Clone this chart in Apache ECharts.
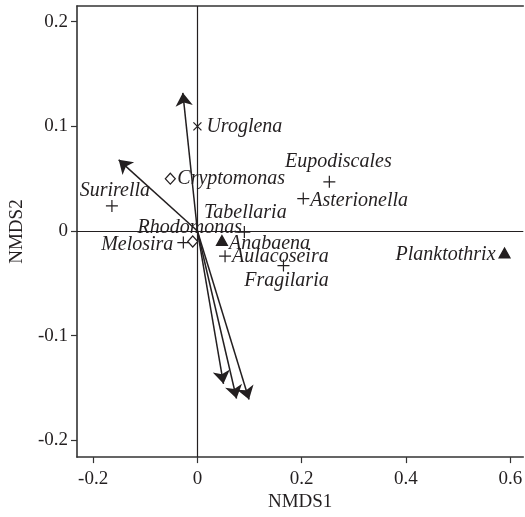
<!DOCTYPE html>
<html>
<head>
<meta charset="utf-8">
<script src="https://cdn.jsdelivr.net/npm/echarts@6/dist/echarts.min.js"></script>
<style>
  html, body { margin: 0; padding: 0; background: #fff; }
  #chart { width: 525px; height: 517px; }
</style>
</head>
<body>
<div id="chart"></div>
<script>
  // species scores (NMDS1, NMDS2)
  let speciesNames = ['Uroglena', 'Cryptomonas', 'Surirella', 'Melosira', 'Rhodomonas', 'Tabellaria',
    'Anabaena', 'Aulacoseira', 'Fragilaria', 'Eupodiscales', 'Asterionella', 'Planktothrix']
  let speciesX = [0.000, -0.052, -0.164, -0.027, -0.009, 0.090, 0.047, 0.053, 0.165, 0.253, 0.203, 0.589]
  let speciesY = [0.100, 0.050, 0.024, -0.011, -0.010, -0.001, -0.009, -0.024, -0.033, 0.047, 0.031, -0.021]
  let speciesGroup = ['cross', 'diamond', 'plus', 'plus', 'diamond', 'plus',
    'triangle', 'plus', 'plus', 'plus', 'plus', 'triangle']

  // environmental vectors
  let envNames = ['Cond', 'SD', 'MeanT', 'MinT', 'WS']
  let envX = [-0.028, -0.151, 0.050, 0.075, 0.099]
  let envY = [0.132, 0.068, -0.146, -0.160, -0.161]

  let xTicks = [-0.2, 0, 0.2, 0.4, 0.6]
  let yTicks = [-0.2, -0.1, 0, 0.1, 0.2]

  // label placement (align, dx, dy in px)
  let speciesLabelPos = {
    Uroglena: ['left', 9, 0], Cryptomonas: ['left', 7, 0], Surirella: ['center', 3, -15],
    Melosira: ['right', -10, 2], Rhodomonas: ['center', -3, -14], Tabellaria: ['center', 1, -19],
    Anabaena: ['left', 7, 3], Aulacoseira: ['left', 7, 1], Fragilaria: ['center', 3, 15],
    Eupodiscales: ['center', 9, -20], Asterionella: ['left', 7, 2], Planktothrix: ['right', -9, 2]
  }
  let envLabelPos = { Cond: [0, -16], SD: [-8, -22], MeanT: [-35, 5], MinT: [3, 25], WS: [29, 6] }

  const font = 'Liberation Serif'
  const ink = '#231f20'
  const symbols = {
    plus: { symbol: 'path://M0,-1L0,1M-1,0L1,0', size: 12, fill: 'none', border: ink },
    cross: { symbol: 'path://M-1,-1L1,1M-1,1L1,-1', size: 8, fill: 'none', border: ink },
    diamond: { symbol: 'diamond', size: [10, 11], fill: '#fff', border: ink },
    triangle: { symbol: 'triangle', size: [11, 10], fill: ink, border: ink }
  }

  let chart = echarts.init(document.getElementById('chart'))

  function speciesSeries(group) {
    let s = symbols[group]
    let data = []
    speciesNames.forEach((n, i) => {
      if (speciesGroup[i] !== group) return
      let p = speciesLabelPos[n]
      data.push({
        name: n,
        value: [speciesX[i], speciesY[i]],
        label: { align: p[0], offset: [p[1], p[2]] }
      })
    })
    return {
      type: 'scatter',
      symbol: s.symbol,
      symbolSize: s.size,
      symbolKeepAspect: true,
      z: 5,
      itemStyle: { color: s.fill, borderColor: s.border, borderWidth: 1.2, opacity: 1 },
      label: {
        show: true,
        position: 'inside',
        verticalAlign: 'middle',
        formatter: '{b}',
        fontFamily: font,
        fontStyle: 'italic',
        fontSize: 20,
        color: ink
      },
      data: data
    }
  }

  let arrowData = envNames.map((n, i) => ({ coords: [[0, 0], [envX[i], envY[i]]] }))
  let envLabelData = envNames.map((n, i) => ({
    name: n,
    value: [envX[i], envY[i]],
    label: { offset: envLabelPos[n] }
  }))

  chart.setOption({
    animation: false,
    grid: { left: 72, right: 0, top: 6, bottom: 56 },
    xAxis: [{
      type: 'value',
      min: -0.231,
      max: 0.625,
      name: 'NMDS1',
      nameLocation: 'middle',
      nameGap: 33,
      nameTextStyle: { fontFamily: font, fontSize: 19, color: ink },
      axisLine: { show: true, onZero: false, lineStyle: { color: '#333', width: 1.6 } },
      axisTick: { show: true, length: 6, customValues: xTicks, lineStyle: { color: '#333', width: 1.2 } },
      axisLabel: {
        customValues: xTicks,
        margin: 12,
        fontFamily: font,
        fontSize: 19,
        color: ink,
        formatter: v => Math.abs(v) < 1e-9 ? '0' : v.toFixed(1)
      },
      splitLine: { show: false }
    }, {
      type: 'value',
      position: 'top',
      min: -0.231,
      max: 0.625,
      axisLine: { show: true, onZero: false, lineStyle: { color: '#333', width: 1.6 } },
      axisTick: { show: false },
      axisLabel: { show: false },
      splitLine: { show: false }
    }],
    yAxis: {
      type: 'value',
      min: -0.216,
      max: 0.215,
      name: 'NMDS2',
      nameLocation: 'middle',
      nameGap: 44,
      nameTextStyle: { fontFamily: font, fontSize: 19, color: ink },
      axisLine: { show: true, onZero: false, lineStyle: { color: '#333', width: 1.6 } },
      axisTick: { show: true, length: 6, customValues: yTicks, lineStyle: { color: '#333', width: 1.2 } },
      axisLabel: {
        customValues: yTicks,
        margin: 9,
        fontFamily: font,
        fontSize: 19,
        color: ink,
        formatter: v => Math.abs(v) < 1e-9 ? '0' : v.toFixed(1)
      },
      splitLine: { show: false }
    },
    series: [
      {
        type: 'lines',
        coordinateSystem: 'cartesian2d',
        symbol: ['none', 'arrow'],
        symbolSize: [9, 13],
        z: 4,
        lineStyle: { color: ink, width: 1.5, opacity: 1 },
        data: arrowData,
        markLine: {
          silent: true,
          symbol: 'none',
          label: { show: false },
          lineStyle: { color: ink, width: 1.2, type: 'solid' },
          data: [{ xAxis: 0 }, { yAxis: 0 }]
        }
      },
      {
        type: 'scatter',
        symbol: 'none',
        z: 6,
        label: {
          show: true,
          position: 'inside',
          formatter: '{b}',
          fontFamily: font,
          fontSize: 19,
          color: ink
        },
        data: envLabelData
      },
      speciesSeries('plus'),
      speciesSeries('cross'),
      speciesSeries('diamond'),
      speciesSeries('triangle')
    ]
  })
</script>
</body>
</html>
